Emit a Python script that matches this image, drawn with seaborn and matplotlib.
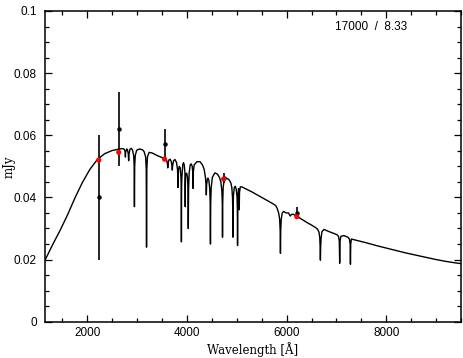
import numpy as np
import matplotlib
matplotlib.use('Agg')
import matplotlib.pyplot as plt
import seaborn as sns
from matplotlib.ticker import MultipleLocator

# model spectrum (wavelength in A, flux in mJy)
spec_wave = [1150, 1300, 1450, 1600, 1750, 1900, 2050, 2200, 2350, 2500, 2650, 2720,
             2745, 2760, 2764, 2768, 2790,
             2805, 2822, 2829, 2836, 2855, 2880,
             2905, 2930, 2940, 2945, 2950, 2962, 2990, 3050, 3110,
             3140, 3170, 3182, 3188, 3194, 3206, 3240, 3300, 3400, 3500, 3560,
             3595, 3610, 3614, 3618, 3635, 3660,
             3685, 3700, 3705, 3710, 3730, 3760,
             3790, 3810, 3816, 3819, 3822, 3830, 3845,
             3865, 3880, 3885, 3888, 3891, 3896, 3915, 3930, 3945,
             3958, 3963, 3965, 3967, 3975,
             3995, 4010, 4020, 4026, 4032, 4045, 4065, 4085,
             4105, 4116, 4121, 4126, 4145, 4200, 4260, 4310,
             4345, 4370, 4382, 4388, 4394, 4410, 4420,
             4440, 4458, 4466, 4471, 4476, 4485, 4510, 4560, 4610, 4650,
             4680, 4700, 4709, 4713, 4717, 4726, 4745, 4790, 4840, 4880,
             4900, 4914, 4919, 4922, 4925, 4932, 4950, 4970, 4990,
             5005, 5011, 5015, 5019, 5025, 5035,
             5042, 5048, 5054, 5070, 5100,
             5300, 5500, 5700, 5780,
             5810, 5840, 5860, 5870, 5876, 5882, 5892, 5912, 5940, 5990,
             6040, 6060, 6075, 6095, 6130, 6200, 6300, 6400, 6500, 6580,
             6620, 6650, 6665, 6673, 6678, 6683, 6692, 6710, 6750, 6850, 6950, 7010,
             7040, 7057, 7065, 7073, 7090, 7150, 7230,
             7260, 7275, 7281, 7287, 7300, 7400, 7600, 7800, 8000, 8200, 8400,
             8600, 8800, 9000, 9200, 9400, 9500]
spec_flux = [0.0198, 0.0247, 0.0293, 0.0343, 0.0398, 0.0448, 0.0490, 0.0522, 0.0541, 0.0551, 0.0556, 0.0557,
             0.0554, 0.0545, 0.0530, 0.0545, 0.0556,
             0.0553, 0.0540, 0.0518, 0.0540, 0.0555, 0.0558,
             0.0553, 0.0535, 0.0500, 0.0370, 0.0500, 0.0535, 0.0552, 0.0556, 0.0553,
             0.0547, 0.0530, 0.0490, 0.0240, 0.0490, 0.0530, 0.0545, 0.0543, 0.0535, 0.0528, 0.0524,
             0.0518, 0.0505, 0.0495, 0.0505, 0.0520, 0.0523,
             0.0515, 0.0500, 0.0488, 0.0500, 0.0518, 0.0522,
             0.0512, 0.0490, 0.0465, 0.0432, 0.0465, 0.0488, 0.0500,
             0.0495, 0.0460, 0.0420, 0.0257, 0.0420, 0.0460, 0.0505, 0.0512, 0.0505,
             0.0480, 0.0440, 0.0370, 0.0440, 0.0475,
             0.0478, 0.0465, 0.0430, 0.0300, 0.0430, 0.0480, 0.0505, 0.0508,
             0.0500, 0.0480, 0.0429, 0.0480, 0.0505, 0.0515, 0.0515, 0.0505,
             0.0490, 0.0465, 0.0440, 0.0408, 0.0440, 0.0460, 0.0462,
             0.0455, 0.0425, 0.0380, 0.0250, 0.0380, 0.0430, 0.0465, 0.0479, 0.0475, 0.0465,
             0.0450, 0.0420, 0.0380, 0.0272, 0.0380, 0.0430, 0.0458, 0.0462, 0.0458, 0.0447,
             0.0432, 0.0400, 0.0360, 0.0272, 0.0360, 0.0405, 0.0432, 0.0436, 0.0425,
             0.0400, 0.0360, 0.0245, 0.0360, 0.0410, 0.0428,
             0.0415, 0.0360, 0.0415, 0.0434, 0.0434,
             0.0418, 0.0400, 0.0382, 0.0374,
             0.0365, 0.0350, 0.0330, 0.0295, 0.0220, 0.0295, 0.0330, 0.0350, 0.0355, 0.0350,
             0.0350, 0.0343, 0.0340, 0.0345, 0.0346, 0.0340, 0.0330, 0.0320, 0.0311, 0.0303,
             0.0298, 0.0288, 0.0270, 0.0240, 0.0198, 0.0240, 0.0270, 0.0290, 0.0297, 0.0290, 0.0284, 0.0280,
             0.0275, 0.0260, 0.0188, 0.0260, 0.0275, 0.0277, 0.0272,
             0.0266, 0.0250, 0.0185, 0.0250, 0.0266, 0.0262, 0.0254, 0.0245, 0.0237, 0.0229, 0.0221,
             0.0214, 0.0207, 0.0200, 0.0194, 0.0189, 0.0187]

# photometry
phot_wave = [2230, 2630, 3550, 4735, 6205]
obs_flux = [0.040, 0.062, 0.0572, 0.0462, 0.0350]
obs_err = [0.020, 0.012, 0.0047, 0.0017, 0.0018]
model_flux = [0.0520, 0.0545, 0.0523, 0.0459, 0.0338]

y_ticks = [0, 0.02, 0.04, 0.06, 0.08, 0.1]
y_tick_labels = ['0', '0.02', '0.04', '0.06', '0.08', '0.1']

sns.set_style('ticks')
plt.rcParams['font.family'] = ['Liberation Sans', 'DejaVu Sans']
plt.rcParams['text.color'] = 'black'
plt.rcParams['axes.labelcolor'] = 'black'

fig = plt.figure(figsize=(4.64, 3.58), dpi=100)
ax = fig.add_axes([0.097, 0.1014, 0.8965, 0.8679])

sns.lineplot(x=spec_wave, y=spec_flux, sort=False, estimator=None,
             color='black', lw=1.0, ax=ax)
ax.errorbar(phot_wave, obs_flux, yerr=obs_err, fmt='o', color='black',
            ms=2.2, elinewidth=1.2, capsize=0, zorder=3)
sns.scatterplot(x=phot_wave, y=model_flux, color='red', s=14,
                edgecolor='none', ax=ax, zorder=4)

ax.set_xlim(1150, 9500)
ax.xaxis.set_major_locator(MultipleLocator(2000))
ax.xaxis.set_minor_locator(MultipleLocator(500))
ax.set_yticks(y_ticks)
ax.set_yticklabels(y_tick_labels)
ax.yaxis.set_minor_locator(MultipleLocator(0.005))
ax.set_ylim(0, 0.1)
ax.tick_params(which='both', direction='in', top=True, right=True,
               labelsize=8.5, width=0.9, colors='black')
ax.tick_params(which='major', length=5)
ax.tick_params(which='minor', length=3)
ax.tick_params(axis='y', pad=6)
ax.tick_params(axis='x', pad=4)
for s in ax.spines.values():
    s.set_linewidth(1.1)
    s.set_color('black')

ax.set_xlabel('Wavelength [Å]', family='DejaVu Serif', fontsize=8.5, labelpad=2)
ax.set_ylabel('mJy', family='DejaVu Serif', fontsize=8.5)
ax.yaxis.set_label_coords(-0.07, 0.5)
ax.text(0.697, 0.947, '17000  /  8.33', transform=ax.transAxes,
        ha='left', va='center', fontsize=8.5, color='black')

fig.savefig('out.png', dpi=100)
